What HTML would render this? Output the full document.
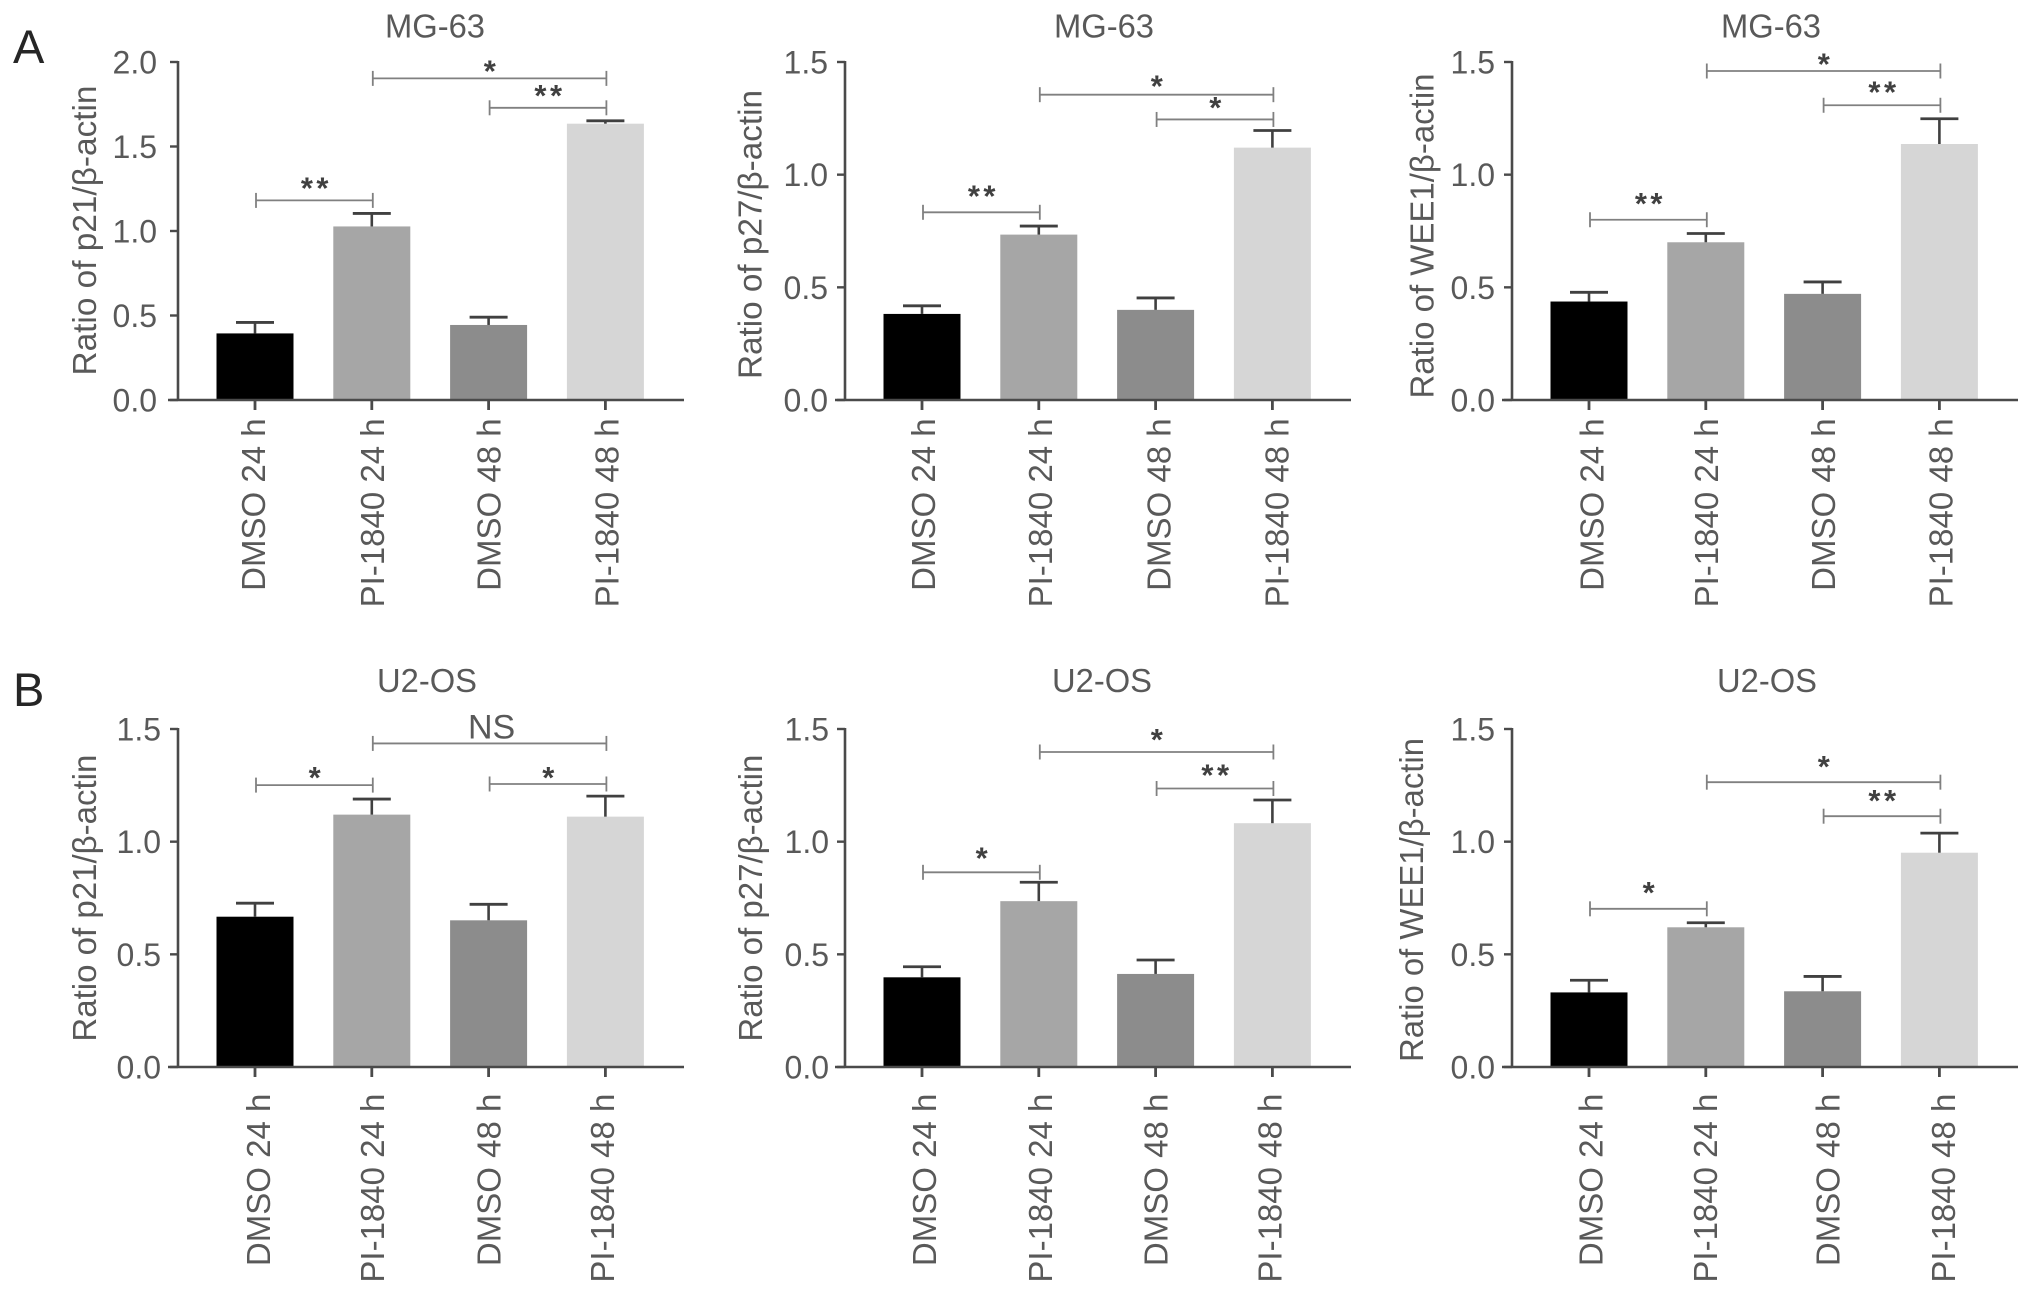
<!DOCTYPE html>
<html lang="en">
<head>
<meta charset="utf-8">
<title>Ratio of p21, p27 and WEE1 to β-actin in MG-63 and U2-OS cells</title>
<style>
  html, body { margin: 0; padding: 0; background: #fff; }
  body { width: 2032px; height: 1293px; overflow: hidden; }
  svg { display: block; font-family: "Liberation Sans", sans-serif; }
  text { fill: #595959; }
</style>
</head>
<body>
<svg id="figure" width="2032" height="1293" viewBox="0 0 2032 1293" xmlns="http://www.w3.org/2000/svg">
  <text x="13" y="63" font-size="47" style="fill:#262626">A</text>
  <text x="13" y="706" font-size="47" style="fill:#262626">B</text>
</svg>
<script>
// ---- Data ----
const categories = ['DMSO 24 h', 'PI-1840 24 h', 'DMSO 48 h', 'PI-1840 48 h'];
const ticksTwo = ['0.0', '0.5', '1.0', '1.5', '2.0'];
const ticksOneHalf = ['0.0', '0.5', '1.0', '1.5'];

const mgP21Means = [0.394, 1.027, 0.444, 1.635];
const mgP21Errors = [0.065, 0.077, 0.046, 0.017];
const mgP21Brackets = [1.181, 1.729, 1.903];
const mgP21Marks = ['**', '**', '*'];

const mgP27Means = [0.382, 0.734, 0.400, 1.120];
const mgP27Errors = [0.036, 0.038, 0.053, 0.076];
const mgP27Brackets = [0.833, 1.245, 1.355];
const mgP27Marks = ['**', '*', '*'];

const mgWeeMeans = [0.437, 0.700, 0.471, 1.136];
const mgWeeErrors = [0.041, 0.039, 0.053, 0.112];
const mgWeeBrackets = [0.800, 1.308, 1.460];
const mgWeeMarks = ['**', '**', '*'];

const uP21Means = [0.667, 1.120, 0.651, 1.111];
const uP21Errors = [0.060, 0.069, 0.071, 0.091];
const uP21Brackets = [1.251, 1.256, 1.436];
const uP21Marks = ['*', '*', 'NS'];

const uP27Means = [0.398, 0.736, 0.413, 1.082];
const uP27Errors = [0.047, 0.084, 0.062, 0.103];
const uP27Brackets = [0.864, 1.236, 1.398];
const uP27Marks = ['*', '**', '*'];

const uWeeMeans = [0.331, 0.620, 0.336, 0.951];
const uWeeErrors = [0.054, 0.020, 0.066, 0.087];
const uWeeBrackets = [0.702, 1.113, 1.264];
const uWeeMarks = ['*', '**', '*'];

// ---- Styling and rendering ----
const barColors = ['#000000', '#a6a6a6', '#8c8c8c', '#d6d6d6'];
const bracketSpans = [[0, 1], [2, 3], [1, 3]];
const SVG_NS = 'http://www.w3.org/2000/svg';
const figure = document.getElementById('figure');

function make(tag, parent, name) {
  const el = document.createElementNS(SVG_NS, tag);
  
  
  parent.appendChild(el);
  return el;
}

function segment(parent, name, x1, y1, x2, y2, color, width) {
  const el = make('line', parent, name);
  el.setAttribute('x1', x1);
  el.setAttribute('y1', y1);
  el.setAttribute('x2', x2);
  el.setAttribute('y2', y2);
  el.setAttribute('stroke', color);
  el.setAttribute('stroke-width', width);
  return el;
}

function label(parent, name, str, x, y, size, anchor, fitLength, rotated) {
  const el = make('text', parent, name);
  el.textContent = str;
  el.setAttribute('font-size', size);
  el.setAttribute('text-anchor', anchor);
  if (fitLength) {
    el.setAttribute('textLength', fitLength);
    el.setAttribute('lengthAdjust', 'spacingAndGlyphs');
  }
  if (rotated) {
    el.setAttribute('transform', 'translate(' + x + ',' + y + ') rotate(-90)');
  } else {
    el.setAttribute('x', x);
    el.setAttribute('y', y);
  }
  return el;
}

function drawPanel(key, series, layout) {
  const group = make('g', figure, 'chart-' + key);
  const yTop = layout.axisY - layout.plotH;
  const maxValue = parseFloat(series.ticks[series.ticks.length - 1]);
  const yScale = v => layout.axisY - (v / maxValue) * layout.plotH;
  const xScale = i => layout.axisX + 77 + i * 116.8;

  label(group, 'chart-title', series.title, layout.titleX, layout.titleY, 33, 'middle', 100, false);
  label(group, 'y-axis-title', series.yTitle, layout.yTitleX, layout.yTitleBottom, 33, 'start', layout.yTitleLen, true);

  // bars first, so the axes and error whiskers sit on top
  categories.forEach((cat, i) => {
    const top = yScale(series.means[i]);
    const bar = make('rect', group, 'bar-' + cat.toLowerCase().replace(/ /g, '-'));
    bar.setAttribute('x', xScale(i) - 38.5);
    bar.setAttribute('y', top);
    bar.setAttribute('width', 77);
    bar.setAttribute('height', layout.axisY - top);
    bar.setAttribute('fill', barColors[i]);

    const errTop = yScale(series.means[i] + series.errors[i]);
    segment(group, 'error-bar-stem', xScale(i), top, xScale(i), errTop, '#404040', 2.6);
    segment(group, 'error-bar-cap', xScale(i) - 19, errTop, xScale(i) + 19, errTop, '#404040', 2.8);
  });

  // y axis
  segment(group, 'y-axis-line', layout.axisX, yTop - 1, layout.axisX, layout.axisY + 1, '#4a4a4a', 2.6);
  series.ticks.forEach(t => {
    const y = yScale(parseFloat(t));
    segment(group, 'y-tick', layout.axisX - 8, y, layout.axisX, y, '#4a4a4a', 2.4);
    label(group, 'y-tick-label', t, layout.tickLabelX, y + 11.5, 32, 'end', null, false);
  });

  // x axis
  segment(group, 'x-axis-line', layout.axisX - 10, layout.axisY, layout.axisX + 506, layout.axisY, '#4a4a4a', 2.6);
  categories.forEach((cat, i) => {
    segment(group, 'x-tick', xScale(i), layout.axisY, xScale(i), layout.axisY + 10, '#4a4a4a', 2.8);
    const length = cat.indexOf('PI') === 0 ? 189 : 172.5;
    label(group, 'x-tick-label', cat, xScale(i) + layout.xLabelShift[i], layout.xLabelTop + length, 33, 'start', length, true);
  });

  // significance brackets
  bracketSpans.forEach((span, b) => {
    const y = yScale(series.brackets[b]);
    const x1 = xScale(span[0]) + 1;
    const x2 = xScale(span[1]) + 1;
    segment(group, 'significance-bracket', x1, y, x2, y, '#808080', 1.8);
    segment(group, 'significance-bracket-end', x1, y - 7.5, x1, y + 7.5, '#808080', 1.8);
    segment(group, 'significance-bracket-end', x2, y - 7.5, x2, y + 7.5, '#808080', 1.8);
    const mid = (x1 + x2) / 2 + 2;
    const isText = series.marks[b] === 'NS';
    const mark = label(group, 'significance-label', series.marks[b], mid, isText ? y - 5 : y + 12 - layout.markLift[b], isText ? 34 : 31, 'middle', null, false);
    if (!isText) {
      mark.setAttribute('font-weight', 'bold');
      mark.setAttribute('letter-spacing', '3.5');
      mark.style.fill = '#404040';
    }
  });
}

drawPanel('mg63-p21',
  { title: 'MG-63', yTitle: 'Ratio of p21/β-actin', ticks: ticksTwo, means: mgP21Means, errors: mgP21Errors, brackets: mgP21Brackets, marks: mgP21Marks },
  { axisX: 178, axisY: 400, plotH: 338, tickLabelX: 157, titleX: 435, titleY: 37.5, yTitleX: 96, yTitleBottom: 375.5, yTitleLen: 290, xLabelTop: 418.4, xLabelShift: [10, 12, 12, 13], markLift: [14, 14, 9] });

drawPanel('mg63-p27',
  { title: 'MG-63', yTitle: 'Ratio of p27/β-actin', ticks: ticksOneHalf, means: mgP27Means, errors: mgP27Errors, brackets: mgP27Brackets, marks: mgP27Marks },
  { axisX: 845, axisY: 400, plotH: 338, tickLabelX: 828, titleX: 1104, titleY: 37.5, yTitleX: 761.5, yTitleBottom: 379, yTitleLen: 289, xLabelTop: 418.4, xLabelShift: [13, 13, 15, 16], markLift: [18, 13.5, 10] });

drawPanel('mg63-wee1',
  { title: 'MG-63', yTitle: 'Ratio of WEE1/β-actin', ticks: ticksOneHalf, means: mgWeeMeans, errors: mgWeeErrors, brackets: mgWeeBrackets, marks: mgWeeMarks },
  { axisX: 1512, axisY: 400, plotH: 338, tickLabelX: 1495, titleX: 1771, titleY: 37.5, yTitleX: 1433.5, yTitleBottom: 398.5, yTitleLen: 325, xLabelTop: 418.4, xLabelShift: [14.5, 12, 12.5, 13], markLift: [17.5, 14.7, 8.6] });

drawPanel('u2os-p21',
  { title: 'U2-OS', yTitle: 'Ratio of p21/β-actin', ticks: ticksOneHalf, means: uP21Means, errors: uP21Errors, brackets: uP21Brackets, marks: uP21Marks },
  { axisX: 178, axisY: 1067, plotH: 338, tickLabelX: 161, titleX: 427, titleY: 692, yTitleX: 96, yTitleBottom: 1041.6, yTitleLen: 287, xLabelTop: 1093.6, xLabelShift: [15, 12, 12, 8.5], markLift: [9, 8, 0] });

drawPanel('u2os-p27',
  { title: 'U2-OS', yTitle: 'Ratio of p27/β-actin', ticks: ticksOneHalf, means: uP27Means, errors: uP27Errors, brackets: uP27Brackets, marks: uP27Marks },
  { axisX: 845, axisY: 1067, plotH: 338, tickLabelX: 829, titleX: 1102, titleY: 692, yTitleX: 762, yTitleBottom: 1041.6, yTitleLen: 287, xLabelTop: 1093.6, xLabelShift: [14, 13, 12, 9], markLift: [16, 15, 14] });

drawPanel('u2os-wee1',
  { title: 'U2-OS', yTitle: 'Ratio of WEE1/β-actin', ticks: ticksOneHalf, means: uWeeMeans, errors: uWeeErrors, brackets: uWeeBrackets, marks: uWeeMarks },
  { axisX: 1512, axisY: 1067, plotH: 338, tickLabelX: 1495, titleX: 1767, titleY: 692, yTitleX: 1423, yTitleBottom: 1062, yTitleLen: 324, xLabelTop: 1093.6, xLabelShift: [13.6, 11, 17, 15.5], markLift: [18, 17, 17] });
</script>
</body>
</html>
